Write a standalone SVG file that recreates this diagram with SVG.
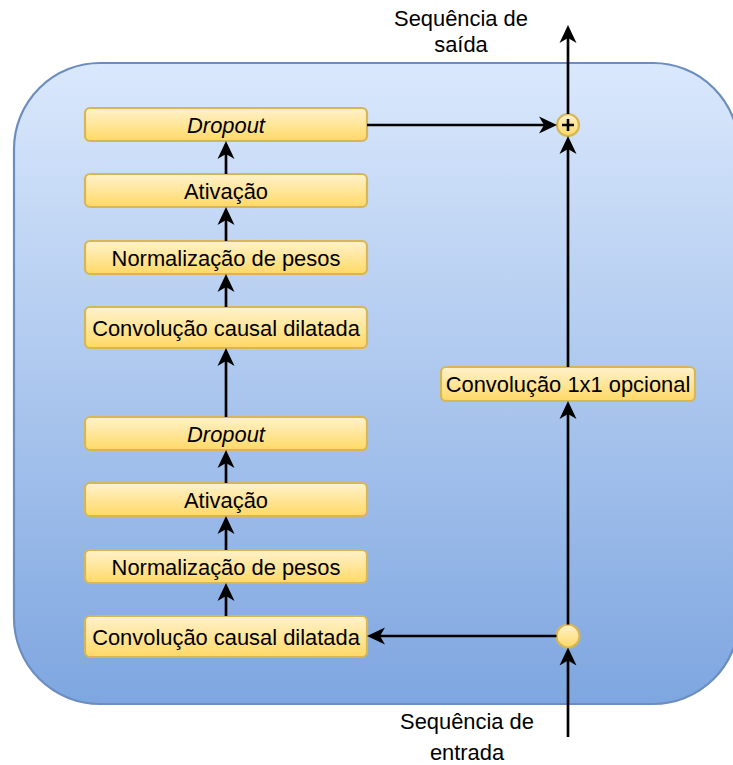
<svg xmlns="http://www.w3.org/2000/svg" width="733" height="765" viewBox="0 0 733 765">
  <defs>
    <linearGradient id="bgGrad" x1="0" y1="0" x2="0" y2="1">
      <stop offset="0" stop-color="#dae8fc"/>
      <stop offset="1" stop-color="#7ea6e0"/>
    </linearGradient>
    <linearGradient id="boxGrad" x1="0" y1="0" x2="0" y2="1">
      <stop offset="0" stop-color="#fff2cc"/>
      <stop offset="1" stop-color="#ffd966"/>
    </linearGradient>
    <marker id="arrow" markerUnits="userSpaceOnUse" viewBox="0 0 18 18" refX="8" refY="9" markerWidth="18" markerHeight="18" orient="auto">
      <path d="M18,9 L0,0.5 L5,9 L0,17.5 Z" fill="#000"/>
    </marker>
  </defs>
  <style>
    .box { fill: url(#boxGrad); stroke: #d6b656; stroke-width: 2.2; }
    .lbl { font-family: "Liberation Sans", Arial, Helvetica, sans-serif; font-size: 21.9px; fill: #000; text-anchor: middle; }
    .it { font-style: italic; }
    .edge { fill: none; stroke: #000; stroke-width: 2.67; marker-end: url(#arrow); }
  </style>

  <!-- residual block container -->
  <g id="block">
    <rect x="14" y="63" width="725" height="641" rx="86" ry="86" fill="url(#bgGrad)" stroke="#6c8ebf" stroke-width="2.2"/>
  </g>

  <!-- left column: first layer stack (top) -->
  <g id="dropout1">
    <rect class="box" x="85" y="108" width="282" height="33" rx="5"/>
    <text class="lbl it" x="226" y="132.5">Dropout</text>
  </g>
  <g id="ativacao1">
    <rect class="box" x="85" y="174" width="282" height="33" rx="5"/>
    <text class="lbl" x="226" y="198.5">Ativação</text>
  </g>
  <g id="norm1">
    <rect class="box" x="85" y="241" width="282" height="33" rx="5"/>
    <text class="lbl" x="226" y="265.5">Normalização de pesos</text>
  </g>
  <g id="conv1">
    <rect class="box" x="85" y="307" width="282" height="41" rx="5"/>
    <text class="lbl" x="226" y="335.5">Convolução causal dilatada</text>
  </g>

  <!-- left column: second layer stack (bottom) -->
  <g id="dropout2">
    <rect class="box" x="85" y="417" width="282" height="33" rx="5"/>
    <text class="lbl it" x="226" y="441.5">Dropout</text>
  </g>
  <g id="ativacao2">
    <rect class="box" x="85" y="483" width="282" height="33" rx="5"/>
    <text class="lbl" x="226" y="507.5">Ativação</text>
  </g>
  <g id="norm2">
    <rect class="box" x="85" y="550" width="282" height="33" rx="5"/>
    <text class="lbl" x="226" y="574.5">Normalização de pesos</text>
  </g>
  <g id="conv2">
    <rect class="box" x="85" y="616" width="282" height="41" rx="5"/>
    <text class="lbl" x="226" y="644.5">Convolução causal dilatada</text>
  </g>

  <!-- skip path -->
  <g id="conv1x1">
    <rect class="box" x="441" y="367" width="254" height="34" rx="5"/>
    <text class="lbl" x="568" y="392">Convolução 1x1 opcional</text>
  </g>
  <g id="sum">
    <circle cx="568" cy="125" r="11" fill="url(#boxGrad)" stroke="#d6b656" stroke-width="2.2"/>
    <path d="M562,125 H574 M568,119 V131" stroke="#000" stroke-width="2.6" fill="none"/>
  </g>
  <g id="split">
    <circle cx="568" cy="636" r="11.5" fill="url(#boxGrad)" stroke="#d6b656" stroke-width="2.2"/>
  </g>

  <!-- external labels -->
  <g id="output-label">
    <text class="lbl" x="461" y="26">Sequência de</text>
    <text class="lbl" x="461" y="52">saída</text>
  </g>
  <g id="input-label">
    <text class="lbl" x="467" y="729">Sequência de</text>
    <text class="lbl" x="467" y="760">entrada</text>
  </g>

  <!-- connectors -->
  <g id="connectors">
    <line class="edge" x1="226" y1="174" x2="226" y2="151"/>
    <line class="edge" x1="226" y1="241" x2="226" y2="217"/>
    <line class="edge" x1="226" y1="307" x2="226" y2="284"/>
    <line class="edge" x1="226" y1="417" x2="226" y2="358"/>
    <line class="edge" x1="226" y1="483" x2="226" y2="460"/>
    <line class="edge" x1="226" y1="550" x2="226" y2="526"/>
    <line class="edge" x1="226" y1="616" x2="226" y2="593"/>

    <line class="edge" x1="568" y1="737" x2="568" y2="657.5"/>
    <line class="edge" x1="556.5" y1="636" x2="377" y2="636"/>
    <line class="edge" x1="568" y1="624.5" x2="568" y2="411"/>
    <line class="edge" x1="568" y1="367" x2="568" y2="146"/>
    <line class="edge" x1="367" y1="125" x2="547" y2="125"/>
    <line class="edge" x1="568" y1="114" x2="568" y2="35"/>
  </g>
</svg>
